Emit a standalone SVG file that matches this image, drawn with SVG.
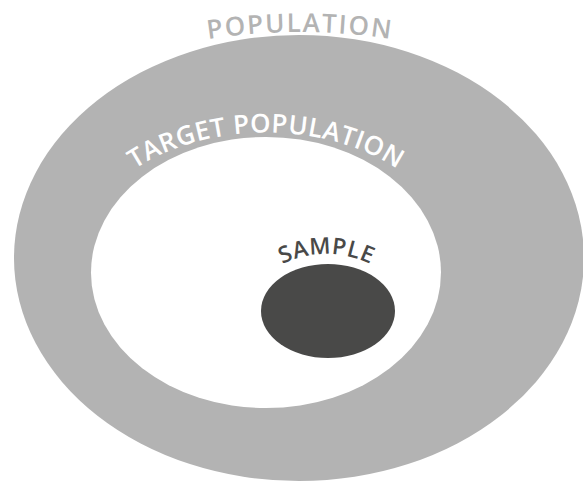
<svg xmlns="http://www.w3.org/2000/svg" xmlns:xlink="http://www.w3.org/1999/xlink" width="583" height="482" viewBox="0 0 583 482">
  <style>
    .label { font-family: "Open Sans", "Lato", "Liberation Sans", sans-serif; font-weight: 600; text-anchor: middle; }
    .outer { fill: #b3b3b3; }
    .inner { fill: #ffffff; }
    .core  { fill: #494948; }
    .t-outer { fill: #b3b3b3; font-size: 26px; letter-spacing: 1.8px; }
    .t-inner { fill: #ffffff; font-size: 26px; letter-spacing: 0.4px; }
    .t-core  { fill: #494948; font-size: 23px; letter-spacing: 0.5px; }
  </style>
  <defs>
    <!-- baselines for the curved labels -->
    <path id="arc-population" d="M 0 112.4 A 600 600 0 0 1 600 112.4"/>
    <path id="arc-target" d="M 71 272.5 A 195 140 0 0 1 461 272.5"/>
    <path id="arc-sample" d="M 226.5 354 A 100 100 0 0 1 426.5 354"/>
  </defs>

  <rect width="583" height="482" fill="#ffffff"/>

  <g id="population">
    <ellipse class="outer" cx="299" cy="258" rx="285" ry="223"/>
    <text class="label t-outer"><textPath xlink:href="#arc-population" href="#arc-population" startOffset="50%">POPULATION</textPath></text>
  </g>

  <g id="target-population">
    <ellipse class="inner" cx="266" cy="272.5" rx="175" ry="135.5"/>
    <text class="label t-inner"><textPath xlink:href="#arc-target" href="#arc-target" startOffset="50%">TARGET POPULATION</textPath></text>
  </g>

  <g id="sample">
    <ellipse class="core" cx="328" cy="311" rx="67" ry="47"/>
    <text class="label t-core"><textPath xlink:href="#arc-sample" href="#arc-sample" startOffset="50%">SAMPLE</textPath></text>
  </g>
</svg>
